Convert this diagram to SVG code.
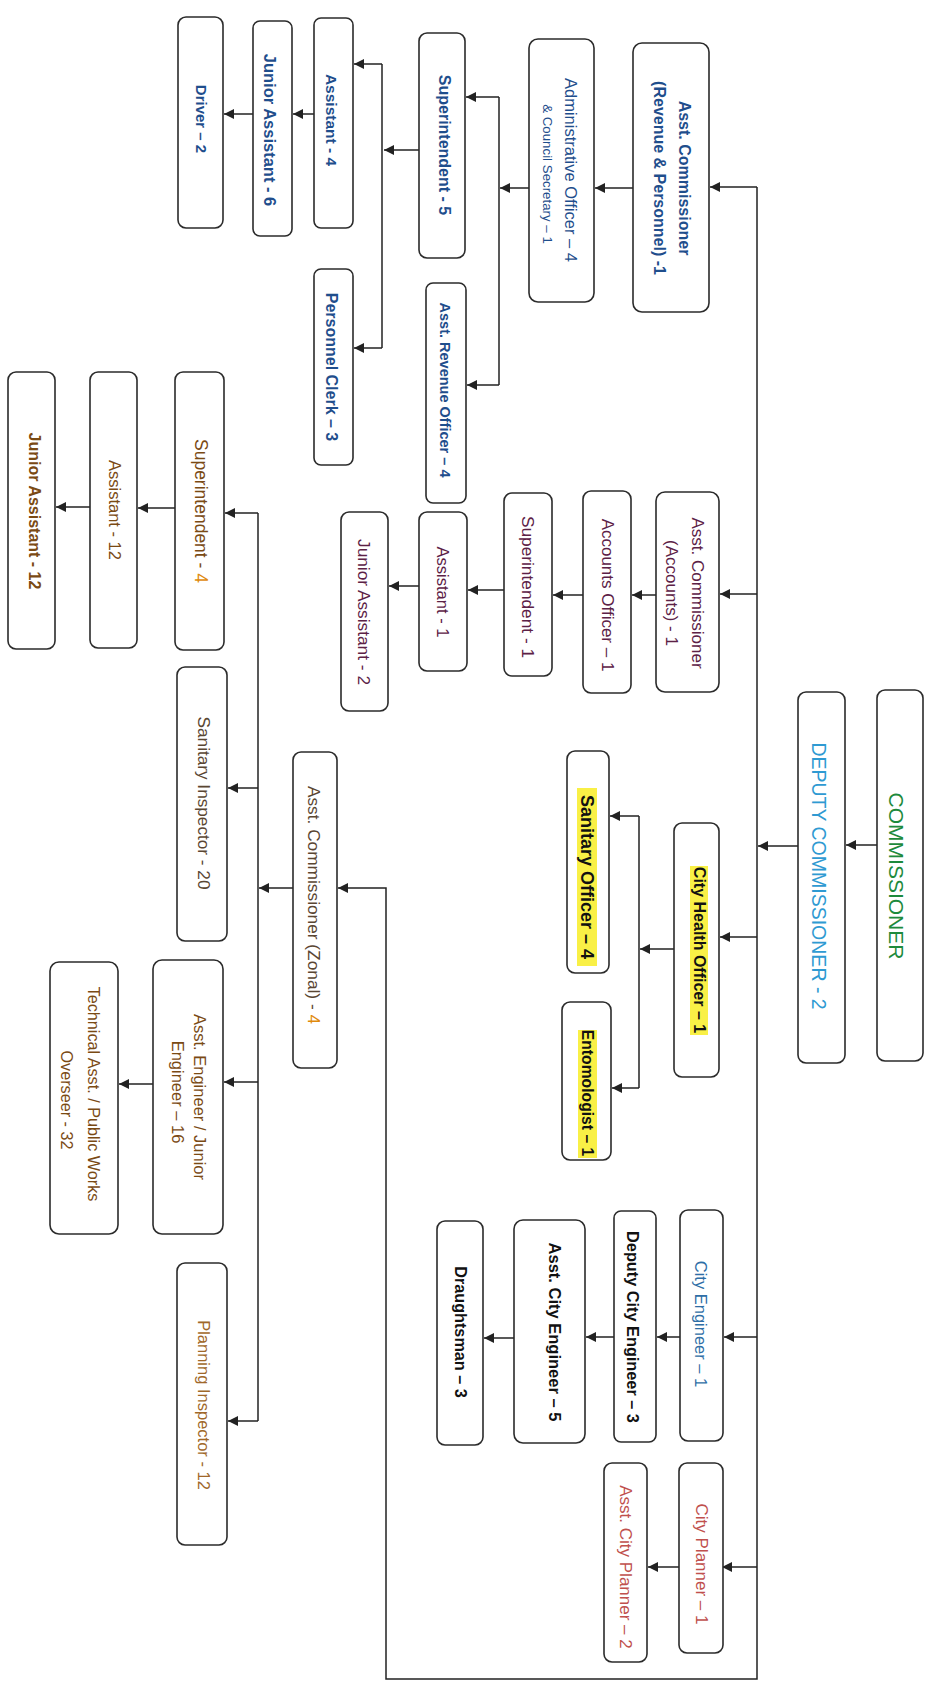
<svg xmlns="http://www.w3.org/2000/svg" width="933" height="1696" viewBox="0 0 933 1696">
<style>
.box{fill:#fff;stroke:#2b2b2b;stroke-width:1.6}
text{font-family:"Liberation Sans",Arial,sans-serif;text-anchor:middle;dominant-baseline:central}
.b{font-weight:bold}
.rev{fill:#1f4e8c}
.acc{fill:#5c2146}
.grn{fill:#1e8a3c}
.dep{fill:#2f9ad2}
.blk{fill:#111}
.ce{fill:#2e6ea6}
.cp{fill:#c0504d}
.zon{fill:#7a4a14}
.zg{fill:#5a4632}
.org{fill:#e08a0c}
.pi{fill:#a0682a}
.hl{fill:#f9f046}
.c{fill:none;stroke:#222;stroke-width:1.5}
.a{marker-end:url(#ah)}
</style>
<defs>
<marker id="ah" viewBox="0 0 10 10" refX="10" refY="5" markerUnits="userSpaceOnUse" markerWidth="12" markerHeight="10" orient="auto">
<path d="M0,0 L10,5 L0,10 z" fill="#222"/>
</marker>
</defs>
<rect width="933" height="1696" fill="#fff"/>

<g id="connectors">
<path class="c" d="M757,187 V1679 H386 V888 H338" marker-end="url(#ah)"/>
<path class="c a" d="M757,187 H710"/>
<path class="c a" d="M757,594 H720"/>
<path class="c a" d="M877,845 H846"/>
<path class="c a" d="M798,846 H758"/>
<path class="c a" d="M757,937 H720"/>
<path class="c a" d="M757,1337 H724"/>
<path class="c a" d="M757,1567 H722"/>
<path class="c a" d="M633,188 H595"/>
<path class="c a" d="M529,188 H500"/>
<path class="c" d="M499,97 V385"/>
<path class="c a" d="M499,97 H466"/>
<path class="c a" d="M499,385 H467"/>
<path class="c a" d="M419,150 H384"/>
<path class="c" d="M382,64 V348"/>
<path class="c a" d="M382,64 H354"/>
<path class="c a" d="M382,348 H354"/>
<path class="c a" d="M314,114 H293"/>
<path class="c a" d="M253,114 H224"/>
<path class="c a" d="M656,595 H632"/>
<path class="c a" d="M583,595 H553"/>
<path class="c a" d="M504,590 H468"/>
<path class="c a" d="M419,586 H389"/>
<path class="c a" d="M674,949 H640"/>
<path class="c" d="M639,816 V1088"/>
<path class="c a" d="M639,816 H610"/>
<path class="c a" d="M639,1088 H612"/>
<path class="c a" d="M680,1337 H657"/>
<path class="c a" d="M614,1337 H586"/>
<path class="c a" d="M514,1338 H484"/>
<path class="c a" d="M679,1567 H648"/>
<path class="c a" d="M293,888 H259"/>
<path class="c" d="M258,513 V1421"/>
<path class="c a" d="M258,513 H225"/>
<path class="c a" d="M258,788 H228"/>
<path class="c a" d="M258,1082 H224"/>
<path class="c a" d="M258,1421 H228"/>
<path class="c a" d="M175,508 H138"/>
<path class="c a" d="M90,507 H56"/>
<path class="c a" d="M153,1084 H119"/>
</g>

<g id="n-commissioner">
<rect class="box" x="877" y="690" width="46" height="371" rx="8"/>
<text class="grn" font-size="21" transform="translate(896,876) rotate(90)">COMMISSIONER</text>
</g>
<g id="n-deputy">
<rect class="box" x="798" y="692" width="47" height="371" rx="8"/>
<text class="dep" font-size="19.5" transform="translate(819,876) rotate(90)">DEPUTY COMMISSIONER - 2</text>
</g>

<g id="n-ac-rev">
<rect class="box" x="633" y="43" width="76" height="269" rx="9"/>
<text class="rev b" font-size="16" transform="translate(684,178) rotate(90)">Asst. Commissioner</text>
<text class="rev b" font-size="16" transform="translate(659,178) rotate(90)">(Revenue &amp; Personnel) -1</text>
</g>
<g id="n-admin">
<rect class="box" x="529" y="39" width="65" height="263" rx="9"/>
<text class="rev" font-size="16.5" transform="translate(571,170) rotate(90)">Administrative Officer – 4</text>
<text class="rev" font-size="13.3" transform="translate(547,174) rotate(90)">&amp; Council Secretary – 1</text>
</g>
<g id="n-sup5">
<rect class="box" x="419" y="33" width="46" height="225" rx="8"/>
<text class="rev b" font-size="16" transform="translate(444,145) rotate(90)">Superintendent - 5</text>
</g>
<g id="n-aro">
<rect class="box" x="426" y="283" width="40" height="220" rx="7"/>
<text class="rev b" font-size="14.5" transform="translate(445,390) rotate(90)">Asst. Revenue Officer – 4</text>
</g>
<g id="n-asst4">
<rect class="box" x="314" y="18" width="39" height="210" rx="7"/>
<text class="rev b" font-size="15.5" transform="translate(331,120) rotate(90)">Assistant - 4</text>
</g>
<g id="n-ja6">
<rect class="box" x="253" y="21" width="39" height="215" rx="7"/>
<text class="rev b" font-size="16.5" transform="translate(270,130) rotate(90)">Junior Assistant - 6</text>
</g>
<g id="n-driver">
<rect class="box" x="178" y="17" width="45" height="211" rx="8"/>
<text class="rev b" font-size="15" transform="translate(201,119) rotate(90)">Driver – 2</text>
</g>
<g id="n-pclerk">
<rect class="box" x="314" y="269" width="39" height="196" rx="7"/>
<text class="rev b" font-size="16" transform="translate(331,367) rotate(90)">Personnel Clerk – 3</text>
</g>

<g id="n-ac-acc">
<rect class="box" x="656" y="492" width="63" height="200" rx="9"/>
<text class="acc" font-size="17" transform="translate(697,593) rotate(90)">Asst. Commissioner</text>
<text class="acc" font-size="17" transform="translate(671,593) rotate(90)">(Accounts) - 1</text>
</g>
<g id="n-ao">
<rect class="box" x="583" y="491" width="48" height="202" rx="8"/>
<text class="acc" font-size="17" transform="translate(607,595) rotate(90)">Accounts Officer – 1</text>
</g>
<g id="n-sup1">
<rect class="box" x="504" y="493" width="48" height="183" rx="8"/>
<text class="acc" font-size="17.3" transform="translate(528,587) rotate(90)">Superintendent - 1</text>
</g>
<g id="n-asst1">
<rect class="box" x="419" y="512" width="48" height="159" rx="8"/>
<text class="acc" font-size="16.5" transform="translate(443,592) rotate(90)">Assistant - 1</text>
</g>
<g id="n-ja2">
<rect class="box" x="341" y="512" width="47" height="199" rx="8"/>
<text class="acc" font-size="17.3" transform="translate(364,612) rotate(90)">Junior Assistant - 2</text>
</g>

<g id="n-cho">
<rect class="box" x="674" y="823" width="45" height="254" rx="8"/>
<rect class="hl" x="690" y="866" width="18" height="169"/>
<text class="blk b" font-size="16" transform="translate(699,950) rotate(90)">City Health Officer – 1</text>
</g>
<g id="n-so">
<rect class="box" x="567" y="751" width="42" height="222" rx="8"/>
<rect class="hl" x="577" y="788" width="20" height="178"/>
<text class="blk b" font-size="18" transform="translate(587,877) rotate(90)">Sanitary Officer – 4</text>
</g>
<g id="n-ento">
<rect class="box" x="562" y="1002" width="49" height="158" rx="8"/>
<rect class="hl" x="578" y="1030" width="19" height="128"/>
<text class="blk b" font-size="15.7" transform="translate(587,1093) rotate(90)">Entomologist – 1</text>
</g>

<g id="n-ce">
<rect class="box" x="680" y="1210" width="43" height="231" rx="8"/>
<text class="ce" font-size="16.5" transform="translate(701,1324) rotate(90)">City Engineer – 1</text>
</g>
<g id="n-dce">
<rect class="box" x="614" y="1211" width="42" height="231" rx="7"/>
<text class="blk b" font-size="16.3" transform="translate(633,1327) rotate(90)">Deputy City Engineer – 3</text>
</g>
<g id="n-ace">
<rect class="box" x="514" y="1220" width="71" height="223" rx="9"/>
<text class="blk b" font-size="16.5" transform="translate(555,1332) rotate(90)">Asst. City Engineer – 5</text>
</g>
<g id="n-dr">
<rect class="box" x="437" y="1221" width="46" height="224" rx="8"/>
<text class="blk b" font-size="16.2" transform="translate(461,1332) rotate(90)">Draughtsman – 3</text>
</g>
<g id="n-cp">
<rect class="box" x="679" y="1463" width="44" height="190" rx="8"/>
<text class="cp" font-size="17" transform="translate(701,1564) rotate(90)">City Planner – 1</text>
</g>
<g id="n-acp">
<rect class="box" x="604" y="1463" width="43" height="199" rx="8"/>
<text class="cp" font-size="17" transform="translate(625,1567) rotate(90)">Asst. City Planner – 2</text>
</g>

<g id="n-ac-zonal">
<rect class="box" x="293" y="752" width="44" height="316" rx="8"/>
<text class="zg" font-size="17.3" transform="translate(314,905) rotate(90)">Asst. Commissioner (Zonal) - <tspan class="org">4</tspan></text>
</g>
<g id="n-sup4">
<rect class="box" x="175" y="372" width="49" height="278" rx="8"/>
<text class="zon" font-size="17.5" transform="translate(201,511) rotate(90)">Superintendent - <tspan class="org">4</tspan></text>
</g>
<g id="n-asst12">
<rect class="box" x="90" y="372" width="47" height="276" rx="8"/>
<text class="zon" font-size="16.5" transform="translate(115,510) rotate(90)">Assistant - 12</text>
</g>
<g id="n-ja12">
<rect class="box" x="8" y="372" width="47" height="277" rx="8"/>
<text class="zon b" font-size="16" transform="translate(34,511) rotate(90)">Junior Assistant - 12</text>
</g>
<g id="n-si">
<rect class="box" x="177" y="667" width="50" height="274" rx="8"/>
<text class="zg" font-size="17.2" transform="translate(204,803) rotate(90)">Sanitary Inspector - 20</text>
</g>
<g id="n-ae">
<rect class="box" x="153" y="960" width="70" height="274" rx="9"/>
<text class="zon" font-size="16.5" transform="translate(200,1097) rotate(90)">Asst. Engineer / Junior</text>
<text class="zon" font-size="16.5" transform="translate(178,1092) rotate(90)">Engineer – 16</text>
</g>
<g id="n-ta">
<rect class="box" x="50" y="962" width="68" height="272" rx="9"/>
<text class="zon" font-size="16.2" transform="translate(94,1094) rotate(90)">Technical Asst. / Public Works</text>
<text class="zon" font-size="16.2" transform="translate(67,1100) rotate(90)">Overseer - 32</text>
</g>
<g id="n-pi">
<rect class="box" x="177" y="1263" width="50" height="282" rx="8"/>
<text class="pi" font-size="16.5" transform="translate(204,1405) rotate(90)">Planning Inspector - 12</text>
</g>
</svg>
